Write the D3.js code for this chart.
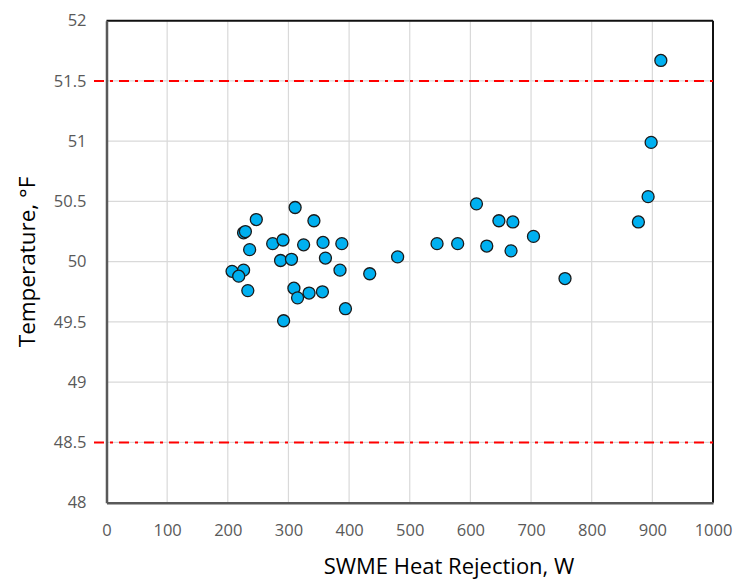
<!DOCTYPE html>
<html><head><meta charset="utf-8">
<script src="https://cdn.jsdelivr.net/npm/d3@7"></script>
<style>body{margin:0;background:#fff}svg{display:block}</style>
</head><body><svg id="c" width="737" height="581"></svg>
<script>
const heatRejection = [311,247,342,226,229,274,291,325,357,388,236,287,305,361,480,207,226,218,385,434,233,309,315,334,356,394,292,610,647,670,545,579,627,667,704,756,877,893,914,898];
const temperature = [50.45,50.35,50.34,50.24,50.25,50.15,50.18,50.14,50.16,50.15,50.10,50.01,50.02,50.03,50.04,49.92,49.93,49.88,49.93,49.90,49.76,49.78,49.70,49.74,49.75,49.61,49.51,50.48,50.34,50.33,50.15,50.15,50.13,50.09,50.21,49.86,50.33,50.54,51.67,50.99];
const xTicks = [0,100,200,300,400,500,600,700,800,900,1000];
const yTicks = [48,48.5,49,49.5,50,50.5,51,51.5,52];
const limits = [51.5,48.5];

const svg = d3.select("#c");
const L=106.5,R=713,T=20.7,B=502.7;
const x = d3.scaleLinear().domain([0,1000]).range([L,R]);
const y = d3.scaleLinear().domain([48,52]).range([B,T]);
const font = "'Open Sans', sans-serif";

svg.append("g").selectAll("line").data(xTicks).join("line")
  .attr("x1",d=>x(d)).attr("x2",d=>x(d)).attr("y1",T).attr("y2",B)
  .attr("stroke","#d9d9d9").attr("stroke-width",1.2);
svg.append("g").selectAll("line").data(yTicks).join("line")
  .attr("x1",L).attr("x2",R).attr("y1",d=>y(d)).attr("y2",d=>y(d))
  .attr("stroke","#d9d9d9").attr("stroke-width",1.2);

svg.append("line").attr("x1",L).attr("x2",R).attr("y1",T).attr("y2",T).attr("stroke","#111").attr("stroke-width",2);
svg.append("line").attr("x1",R).attr("x2",R).attr("y1",T).attr("y2",B).attr("stroke","#111").attr("stroke-width",2);

svg.append("g").selectAll("line").data(limits).join("line")
  .attr("x1",94).attr("x2",R).attr("y1",d=>y(d)).attr("y2",d=>y(d))
  .attr("stroke","#ff0000").attr("stroke-width",2).attr("stroke-dasharray","10,6,3,6");

const xa = svg.append("g").attr("transform",`translate(0,${B})`)
  .call(d3.axisBottom(x).tickValues(xTicks).tickSize(0).tickPadding(22).tickFormat(d3.format("d")));
const ya = svg.append("g").attr("transform",`translate(${L},0)`)
  .call(d3.axisLeft(y).tickValues(yTicks).tickSize(0).tickPadding(20).tickFormat(d=>String(d)));
[xa,ya].forEach(a=>{
  a.select(".domain").attr("stroke","#595959").attr("stroke-width",2.5);
  a.selectAll("text").attr("fill","#595959").style("font-family",font).style("font-size","16.5px");
});

svg.append("g").selectAll("circle").data(heatRejection.map((h,i)=>[h,temperature[i]])).join("circle")
  .attr("cx",d=>x(d[0])).attr("cy",d=>y(d[1])).attr("r",6)
  .attr("fill","#00b0f0").attr("stroke","#1a1a1a").attr("stroke-width",1.3);

svg.append("text").attr("x",449).attr("y",574).attr("text-anchor","middle")
  .style("font-family",font).style("font-size","22px").attr("fill","#000").text("SWME Heat Rejection, W");
svg.append("text").attr("transform",`translate(35,262) rotate(-90)`).attr("text-anchor","middle")
  .style("font-family",font).style("font-size","22.5px").attr("fill","#000").text("Temperature, °F");
</script></body></html>
